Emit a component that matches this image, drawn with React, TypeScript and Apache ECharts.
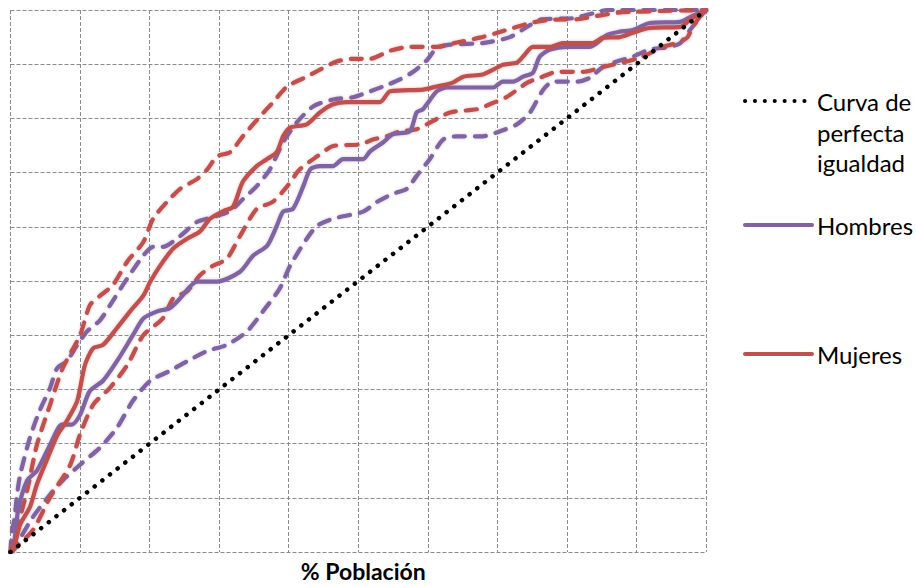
import React, { useEffect, useRef } from "react";
import * as echarts from "echarts";

const xAxisTitle = "% Población";
const legendEquality = ["Curva de", "perfecta", "igualdad"];
const legendMen = "Hombres";
const legendWomen = "Mujeres";

const equality: number[][] = [[0, 0], [100, 100]];

const hombres: number[][] = [
  [0, 0], [0.4, 0.4], [1.1, 7.7], [2.4, 13.2], [3.8, 15], [5.7, 19.8], [7.4, 23.5], [8.8, 23.5],
  [10, 25.3], [11.4, 29.7], [13.3, 31.6], [15.3, 35.2], [17.6, 40], [19.1, 43.1], [21.1, 44.4],
  [22.9, 45], [24.4, 46.8], [26.8, 49.9], [29.7, 49.9], [33, 51.7], [34.9, 54.7], [36.9, 56.5],
  [38.3, 60.2], [39.2, 62.8], [40.6, 63.3], [42.1, 67.5], [43.1, 70.6], [44.5, 71.2], [46.4, 71.2],
  [47.8, 72.5], [50.7, 72.5], [51.7, 73.9], [53.6, 75.6], [55, 77.1], [57.4, 77.6], [58.4, 81.1],
  [59.3, 81.7], [61.3, 85], [62.8, 85.7], [69.4, 85.7], [70.8, 86.8], [72.3, 86.8], [73.7, 87.7],
  [75.1, 88.4], [76.1, 91.4], [77.6, 92.7], [80, 93.2], [83.3, 93.2], [85.8, 95.4], [87.6, 96],
  [89.5, 96.3], [91.9, 97.6], [96.3, 97.8], [97.7, 98.7], [100, 100],
];

const hombresSup: number[][] = [
  [0, 0], [0.2, 3.7], [0.6, 6.4], [0.9, 10.1], [1.4, 14.3], [2.8, 21.1], [4.2, 26.1], [5.7, 30.3],
  [6.7, 33.9], [8.1, 35.2], [9.6, 38.2], [11, 40.7], [12.9, 42.8], [14.3, 45.5], [16.8, 50.5],
  [19.1, 54.7], [20.5, 56.3], [21.9, 56.3], [24.4, 58.3], [26.8, 60.9], [29.1, 61.8], [31.6, 62.9],
  [33.4, 65.1], [35.4, 67.5], [37.3, 70.6], [39.2, 75.6], [41.2, 79.3], [43.5, 82.2], [46.4, 83.5],
  [49.2, 83.9], [51.3, 84.8], [53.6, 85.9], [56, 87.2], [57.9, 88.6], [59.9, 90.8], [61.3, 93],
  [63.2, 93.6], [67.9, 93.9], [71.8, 95], [74.3, 96.9], [76.1, 98.2], [80.9, 98.5], [83.8, 99.4],
  [85.8, 100], [100, 100],
];

const hombresInf: number[][] = [
  [0, 0], [0.4, 0.4], [3.2, 6.4], [5.7, 10.6], [7.5, 13.2], [10, 16.1], [12.9, 19.3], [15.3, 22.9],
  [17.6, 27.9], [20.1, 31.6], [22.9, 33.4], [25.4, 35.2], [28.3, 37.1], [31.1, 38.2], [34, 40.7],
  [36.3, 44.4], [38.7, 48.6], [40.2, 52.8], [42.6, 57.8], [44.1, 60.2], [46.4, 61.5], [50.7, 62.8],
  [52.7, 64.6], [55, 66.1], [57, 67], [58.4, 69.4], [60.3, 72.5], [62.2, 76.1], [64.2, 76.7],
  [67.9, 76.7], [69.9, 77.4], [72.8, 78.9], [74.7, 81.1], [76.6, 85.3], [78, 86.8], [81.5, 86.8],
  [83.3, 87.5], [85.2, 89.5], [87.2, 90.5], [89.5, 91.4], [91.9, 92.7], [94.8, 93.2], [96.3, 93.9],
  [97.7, 96.3], [99.6, 99.4], [100, 100],
];

const mujeres: number[][] = [
  [0, 0], [0.4, 0.4], [1.4, 5.1], [2.8, 8.3], [3.8, 12.5], [5.2, 16.9], [6.8, 21.7], [8.1, 24.2],
  [9.6, 27.9], [10.7, 34.5], [11.9, 37.6], [13.3, 38.2], [15.3, 41.3], [17.2, 44.4], [19.1, 47.3],
  [20.1, 49.9], [21.5, 52.8], [23.4, 56], [25.4, 57.8], [27.2, 59.1], [28.7, 61.5], [30.6, 62.9],
  [32, 63.7], [33.4, 68.3], [35.4, 71.2], [36.9, 72.5], [38.3, 73.8], [39.2, 76.7], [40.2, 78.3],
  [42.6, 78.9], [44.5, 81.1], [46.4, 82.6], [48.4, 83], [53.1, 83], [54.6, 85], [59.3, 85.3],
  [61.3, 85.9], [63.6, 86.6], [65.1, 87.7], [67.9, 88.1], [69.4, 89], [70.8, 89.9], [72.8, 90.3],
  [73.7, 91.4], [75.1, 93.2], [77.6, 93.2], [79.4, 93.9], [83.7, 93.9], [85.2, 94.9], [87.6, 95],
  [89.5, 95.8], [91.9, 96.7], [96.3, 96.9], [97.7, 98.2], [100, 100],
];

const mujeresSup: number[][] = [
  [0, 0], [0.6, 2.8], [2.4, 11.4], [3.8, 19.8], [5.7, 27.2], [7.5, 33.9], [10, 40], [11.4, 45.5],
  [12.9, 47.3], [14.7, 49.2], [16.8, 53.6], [19.1, 57.2], [20.5, 61.5], [22.5, 64.6], [24.4, 67],
  [26.8, 68.8], [28.3, 70.6], [29.7, 73], [31.6, 73.8], [33.4, 76.7], [35.9, 80.4], [37.7, 82.9],
  [39.8, 85.9], [42.6, 87.7], [44.5, 89], [46.9, 90.5], [49.2, 91], [51.7, 91], [54.6, 92.5],
  [57.4, 93.2], [61.3, 93.2], [64.2, 94], [67.5, 94.9], [70, 95.8], [72.3, 96.7], [74.7, 97.6],
  [77.6, 98.2], [81.5, 98.3], [85.2, 99.1], [88.1, 99.6], [100, 100],
];

const mujeresInf: number[][] = [
  [0, 0], [0.4, 0.4], [3.2, 4], [5.7, 10.1], [8.6, 16.1], [10, 21.7], [11.9, 27.2], [14.3, 30.3],
  [16.8, 34.5], [19.1, 40], [21.9, 43.1], [23.4, 46.8], [25.4, 48.1], [27.2, 51], [29.1, 52.8],
  [31.1, 54.1], [33, 58.3], [35.4, 63.3], [37.7, 64.6], [39.8, 67.5], [41.6, 70.6], [44.1, 73],
  [46.4, 74.9], [50.3, 75.2], [52.1, 76.1], [54.1, 76.7], [56, 77.6], [58.4, 78], [60.7, 79.5],
  [63.2, 81.1], [67.1, 81.7], [68.9, 82.6], [71.4, 84], [74.3, 86.6], [76.1, 87.5], [78.6, 88.6],
  [82.3, 88.6], [85.2, 89.5], [88.6, 90.5], [90.9, 91.4], [93.8, 93.2], [95.8, 93.9], [97.3, 94.9],
  [98.1, 96.9], [99.1, 98.7], [100, 100],
];

const PURPLE = "#8064A2";
const RED = "#C0504D";
const FONT = "Lato, 'Noto Sans', sans-serif";

export default function App() {
  const ref = useRef<HTMLDivElement>(null);

  useEffect(() => {
    document.body.style.margin = "0";
    if (!ref.current) return;
    const chart = echarts.init(ref.current, null, { renderer: "svg" });

    const gridLine = { show: true, lineStyle: { color: "#8c8c8c", width: 1, type: [4, 2] } };
    const axisBase = {
      type: "value",
      min: 0,
      max: 100,
      interval: 10,
      axisLine: { show: false },
      axisTick: { show: false },
      axisLabel: { show: false },
      splitLine: gridLine,
    };

    const lineSeries = (name: string, data: number[][], color: string, dashed: boolean) => ({
      name,
      type: "line",
      data,
      symbol: "none",
      smooth: 0.25,
      z: dashed ? 2 : 3,
      lineStyle: {
        color,
        width: 4.2,
        type: dashed ? [11, 10] : "solid",
        cap: "round",
        join: "round",
        shadowBlur: 3,
        shadowColor: color + "66",
      },
    });

    const lx1 = 745;
    const lx2 = 812;
    const tx = 817;
    const legendFont = { fontFamily: FONT, fontSize: 24, fill: "#000", textVerticalAlign: "middle", textAlign: "left" };

    chart.setOption({
      animation: false,
      grid: { left: 10.5, top: 10, right: 210, bottom: 32 },
      xAxis: {
        ...axisBase,
        name: xAxisTitle,
        nameLocation: "middle",
        nameGap: 7,
        nameTextStyle: {
          fontFamily: FONT,
          fontWeight: "bold",
          fontSize: 23,
          color: "#000",
          verticalAlign: "top",
          padding: [0, 0, 0, 10],
        },
      },
      yAxis: { ...axisBase },
      series: [
        lineSeries("Hombres sup", hombresSup, PURPLE, true),
        lineSeries("Hombres inf", hombresInf, PURPLE, true),
        lineSeries("Mujeres sup", mujeresSup, RED, true),
        lineSeries("Mujeres inf", mujeresInf, RED, true),
        lineSeries(legendMen, hombres, PURPLE, false),
        lineSeries(legendWomen, mujeres, RED, false),
        {
          name: "Curva de perfecta igualdad",
          type: "line",
          data: equality,
          symbol: "none",
          z: 4,
          lineStyle: { color: "#000", width: 4.5, type: [0.1, 9.6], cap: "round" },
        },
      ],
      graphic: [
        {
          type: "line",
          shape: { x1: lx1, y1: 101, x2: 805, y2: 101 },
          style: { stroke: "#000", lineWidth: 4, lineDash: [0.1, 9.8], lineCap: "round" },
        },
        ...legendEquality.map((t, i) => ({
          type: "text",
          x: tx,
          y: [101, 132, 162][i],
          style: { text: t, ...legendFont },
        })),
        {
          type: "line",
          shape: { x1: lx1, y1: 225, x2: lx2, y2: 225 },
          style: { stroke: PURPLE, lineWidth: 4, lineCap: "round" },
        },
        {
          type: "text",
          x: tx,
          y: 225,
          style: { text: legendMen, ...legendFont },
        },
        {
          type: "line",
          shape: { x1: lx1, y1: 354, x2: lx2, y2: 354 },
          style: { stroke: RED, lineWidth: 4, lineCap: "round" },
        },
        {
          type: "text",
          x: tx,
          y: 354,
          style: { text: legendWomen, ...legendFont },
        },
      ],
    });

    return () => chart.dispose();
  }, []);

  return <div ref={ref} style={{ width: 916, height: 587 }} />;
}
